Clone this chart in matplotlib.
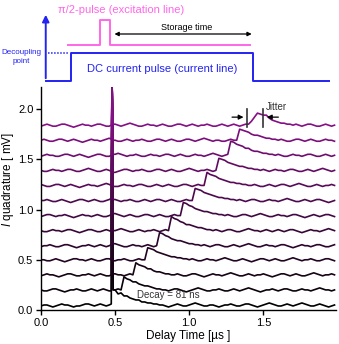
import numpy as np
import matplotlib
matplotlib.use('Agg')
import matplotlib.pyplot as plt

plt.rcParams['font.family'] = ['Liberation Sans', 'DejaVu Sans']
plt.rcParams['mathtext.fontset'] = 'custom'
plt.rcParams['mathtext.it'] = 'Liberation Sans:italic'
plt.rcParams['mathtext.rm'] = 'Liberation Sans'

# sample grid of the traces (us)
t_step = 0.02
n_pts = 100
# baseline of each trace (mV), bottom -> top
baselines = [0.04, 0.19, 0.34, 0.49, 0.63, 0.78, 0.93, 1.08, 1.23, 1.38, 1.53, 1.68, 1.83]
# excitation leak spike (us / mV)
spike_t = [0.474, 0.480, 0.487]
spike_top = 2.21

# trace readings relative to baseline, in 0.01 mV
traces = [
    [0, 1, 1, 0, -1, 0, 1, 2, 1, 1, 0, -1, 0, 0, 1, 2, 2, 1, 0, 1,
     2, 1, 0, 1, 2, 16, 12, 13, 10, 10, 8, 7, 6, 6, 4, 4, 3, 3, 2, 2,
     1, 1, 0, -1, 0, 1, 2, 1, 0, 0, 1, 2, 3, 2, 1, 0, 0, 1, 1, 0,
     -1, 0, 1, 1, 2, 1, 0, 0, 1, 2, 2, 1, 0, -1, 0, 1, 2, 3, 2, 1,
     0, 0, 1, 2, 1, 0, 1, 2, 3, 2, 1, 0, 0, 1, 2, 1, 0, -1, 0, 1],
    [1, 0, 0, 1, 2, 2, 1, 0, -1, 0, 1, 1, 2, 1, 0, 0, 1, 2, 1, 0,
     1, 2, 1, 0, 0, 1, 2, 1, 14, 12, 11, 9, 9, 7, 6, 5, 5, 4, 3, 2,
     2, 1, 1, 0, 1, 2, 2, 1, 0, -1, 0, 1, 2, 3, 2, 1, 0, 0, 1, 1,
     2, 1, 0, 0, 1, 2, 1, 0, 1, 2, 3, 2, 1, 0, -1, 0, 1, 1, 2, 1,
     0, 1, 2, 2, 1, 0, 0, 1, 2, 1, 1, 0, 1, 2, 3, 2, 1, 1, 0, 1],
    [0, 1, 2, 1, 1, 0, -1, 0, 1, 2, 2, 1, 0, 0, 1, 1, 2, 1, 0, 1,
     2, 1, 0, 0, 1, 2, 1, 1, 0, 1, 2, 1, 13, 11, 10, 9, 7, 7, 5, 4,
     4, 3, 2, 2, 1, 1, 2, 1, 0, 0, 1, 2, 2, 1, 0, -1, 0, 1, 2, 1,
     1, 0, 1, 2, 3, 2, 1, 0, 0, 1, 2, 1, 0, 1, 1, 2, 1, 0, -1, 0,
     1, 2, 2, 1, 0, 1, 2, 1, 0, 0, 1, 2, 3, 2, 1, 0, 1, 1, 2, 1],
    [1, 1, 0, 0, 1, 2, 1, 0, -1, 0, 1, 2, 2, 1, 1, 0, 1, 2, 1, 0,
     0, 1, 2, 2, 1, 0, 1, 1, 2, 1, 0, 0, 1, 2, 1, 1, 13, 12, 11, 9,
     8, 7, 6, 5, 4, 4, 3, 3, 2, 2, 1, 2, 1, 0, 0, 1, 2, 1, 1, 0,
     1, 2, 3, 2, 1, 0, 0, 1, 2, 1, 0, -1, 0, 1, 2, 2, 1, 0, 1, 2,
     1, 0, 0, 1, 2, 3, 2, 1, 0, 1, 1, 2, 1, 0, 0, 1, 2, 2, 1, 0],
    [0, 1, 1, 2, 1, 0, 0, 1, 2, 2, 1, 0, -1, 0, 1, 1, 2, 1, 0, 1,
     2, 1, 0, 1, 2, 3, 2, 1, 0, 0, 1, 2, 1, 1, 0, 1, 2, 1, 0, 1,
     14, 13, 11, 10, 8, 7, 6, 6, 5, 4, 3, 3, 2, 2, 1, 2, 1, 0, 1, 2,
     2, 1, 0, 0, 1, 2, 1, 0, 1, 2, 3, 2, 1, 0, 0, 1, 2, 1, 1, 0,
     1, 2, 2, 1, 0, -1, 0, 1, 2, 1, 1, 0, 1, 2, 2, 1, 0, 0, 1, 2],
    [1, 0, 0, 1, 2, 1, 1, 0, 1, 2, 2, 1, 0, -1, 0, 1, 2, 2, 1, 0,
     0, 1, 2, 1, 0, 1, 2, 3, 2, 1, 0, 0, 1, 2, 1, 0, 1, 1, 2, 1,
     0, 1, 2, 1, 15, 13, 12, 10, 9, 7, 7, 6, 5, 4, 4, 3, 2, 2, 1, 2,
     1, 0, 1, 2, 2, 1, 0, 0, 1, 2, 3, 2, 1, 1, 0, 1, 2, 1, 0, 1,
     2, 1, 0, 1, 2, 2, 1, 0, -1, 0, 1, 2, 1, 1, 0, 1, 2, 3, 2, 1],
    [0, 1, 2, 2, 1, 0, 1, 1, 2, 1, 0, -1, 0, 1, 2, 1, 1, 0, 1, 2,
     1, 0, 0, 1, 2, 3, 2, 1, 0, 1, 2, 1, 0, 0, 1, 2, 2, 1, 0, 1,
     2, 1, 0, 0, 1, 2, 1, 1, 14, 13, 11, 10, 8, 7, 6, 5, 5, 4, 3, 3,
     2, 2, 1, 2, 1, 0, 0, 1, 2, 2, 1, 0, 1, 2, 3, 2, 1, 0, 0, 1,
     2, 1, 1, 0, 1, 2, 2, 1, 0, -1, 0, 1, 2, 1, 0, 1, 2, 2, 1, 0],
    [1, 1, 2, 1, 0, 0, 1, 2, 1, 0, -1, 0, 1, 2, 2, 1, 0, 1, 2, 1,
     0, 0, 1, 2, 3, 2, 1, 0, 1, 1, 2, 1, 0, 0, 1, 2, 1, 0, 1, 2,
     2, 1, 0, 1, 2, 1, 0, 0, 1, 2, 1, 1, 13, 12, 11, 9, 8, 7, 6, 5,
     4, 4, 3, 3, 2, 2, 1, 2, 1, 0, 1, 2, 2, 1, 0, 0, 1, 2, 1, 1,
     0, 1, 2, 3, 2, 1, 0, 0, 1, 2, 1, 0, 1, 2, 2, 1, 0, -1, 0, 1],
    [2, 1, 0, 0, 1, 2, 2, 1, 0, 1, 2, 1, 0, -1, 0, 1, 2, 1, 1, 0,
     1, 2, 3, 2, 1, 0, 0, 1, 2, 1, 1, 0, 1, 2, 2, 1, 0, 0, 1, 2,
     1, 0, 1, 2, 1, 0, 0, 1, 2, 2, 1, 0, 1, 2, 1, 1, 14, 12, 11, 10,
     8, 7, 6, 5, 4, 4, 3, 3, 2, 2, 1, 1, 2, 1, 0, 0, 1, 2, 1, 0,
     1, 2, 2, 1, 0, 1, 2, 3, 2, 1, 0, 0, 1, 2, 1, 0, 1, 1, 2, 1],
    [1, 0, 0, 1, 2, 1, 1, 0, 1, 2, 2, 1, 0, 0, 1, 2, 3, 2, 1, 0,
     0, 1, 2, 1, 0, -1, 0, 1, 2, 2, 1, 0, 1, 1, 2, 1, 0, 0, 1, 2,
     2, 1, 0, 1, 2, 1, 0, 0, 1, 2, 3, 2, 1, 0, 1, 1, 2, 1, 0, 1,
     13, 12, 11, 9, 8, 7, 6, 5, 5, 4, 3, 3, 2, 2, 1, 2, 1, 0, 1, 2,
     1, 1, 0, 1, 2, 2, 1, 0, 0, 1, 2, 1, 0, 1, 2, 3, 2, 1, 0, 1],
    [0, 1, 2, 1, 1, 0, 0, 1, 2, 2, 1, 0, 1, 2, 1, 0, -1, 0, 1, 2,
     2, 1, 0, 0, 1, 2, 3, 2, 1, 0, 1, 1, 2, 1, 0, 0, 1, 2, 1, 1,
     0, 1, 2, 2, 1, 0, 1, 2, 1, 0, 0, 1, 2, 1, 1, 0, 1, 2, 3, 2,
     1, 0, 1, 2, 15, 14, 12, 11, 10, 8, 8, 6, 5, 5, 4, 3, 3, 2, 2, 1,
     2, 1, 0, 0, 1, 2, 1, 1, 0, 1, 2, 2, 1, 0, 0, 1, 2, 1, 0, 1],
    [1, 2, 1, 0, 0, 1, 2, 2, 1, 0, 1, 2, 1, 0, -1, 0, 1, 2, 1, 1,
     0, 1, 2, 3, 2, 1, 0, 0, 1, 2, 1, 0, 1, 1, 2, 1, 0, 0, 1, 2,
     2, 1, 0, 1, 2, 1, 0, 0, 1, 2, 2, 1, 0, 1, 2, 3, 2, 1, 0, 1,
     1, 0, 0, 1, 2, 1, 1, 12, 11, 10, 9, 7, 6, 6, 5, 4, 3, 3, 2, 2,
     1, 2, 1, 0, 0, 1, 2, 2, 1, 0, 1, 2, 1, 0, 0, 1, 2, 1, 1, 0],
    [0, 1, 2, 1, 0, 0, 1, 2, 2, 1, 0, -1, 0, 1, 2, 1, 1, 0, 1, 2,
     2, 1, 0, 0, 1, 2, 1, 0, 1, 2, 3, 2, 1, 0, 0, 1, 2, 1, 1, 0,
     1, 2, 1, 0, 0, 1, 2, 2, 1, 0, 1, 2, 1, 0, 1, 1, 2, 1, 0, 0,
     1, 2, 1, 0, 1, 2, 1, 0, 1, 2, 2, 5, 9, 13, 12, 11, 11, 8, 6, 5,
     4, 3, 3, 2, 2, 1, 2, 1, 0, 1, 2, 2, 1, 0, 0, 1, 2, 1, 0, 1],
]
for tr in traces:
    assert len(tr) == n_pts, len(tr)

# schematic (top panel), time in us, levels in arbitrary units
current_t = [0.032, 0.203, 0.203, 1.43, 1.43, 1.94]
current_v = [3, 3, 31, 31, 3, 3]
excite_t = [0.185, 0.40, 0.40, 0.466, 0.466, 1.41]
excite_v = [39, 39, 64, 64, 39, 39]

blue = '#2323F2'
pink = '#FF66E8'

fig = plt.figure(figsize=(3.39, 3.44), dpi=100)
ax = fig.add_axes([41 / 339, 1 - 310 / 344, 295 / 339, 223 / 344])
top = fig.add_axes([41 / 339, 1 - 84 / 344, 295 / 339, 78 / 344])

grid_t = np.arange(n_pts) * t_step
dark = np.array([0.0, 0.0, 0.0])
purple = np.array([0.52, 0.06, 0.52])
n_tr = len(traces)
for i, (b, tr) in enumerate(zip(baselines, traces)):
    v = b + np.array(tr) / 100.0
    k = 24  # sample at the spike
    xs = np.concatenate([grid_t[:k], spike_t, grid_t[k + 1:]])
    ys = np.concatenate([v[:k], [v[k], spike_top, v[k + 1]], v[k + 1:]])
    c = dark + (purple - dark) * i / (n_tr - 1)
    ax.plot(xs, ys, color=c, lw=1.2, zorder=2)

ax.set_xlim(0, 1.99)
ax.set_ylim(0, 2.22)
ax.set_xticks([0, 0.5, 1.0, 1.5])
ax.set_yticks([0, 0.5, 1.0, 1.5, 2.0])
ax.xaxis.set_major_formatter(matplotlib.ticker.FormatStrFormatter('%.1f'))
ax.yaxis.set_major_formatter(matplotlib.ticker.FormatStrFormatter('%.1f'))
ax.tick_params(direction='out', length=3.5, width=1, labelsize=8, pad=2)
for s in ['top', 'right']:
    ax.spines[s].set_visible(False)
for s in ['left', 'bottom']:
    ax.spines[s].set_linewidth(1.0)
ax.set_xlabel('Delay Time [µs ]', fontsize=8.5, labelpad=2)
ax.set_ylabel('$I$ quadrature [ mV]', fontsize=8.5)
ax.yaxis.set_label_coords(-0.085, 0.587)

# jitter marks
ax.plot([1.39, 1.39], [1.82, 2.0], color='#333333', lw=1.2)
ax.plot([1.50, 1.50], [1.82, 2.0], color='#333333', lw=1.2)
ax.annotate('', xy=(1.385, 1.92), xytext=(1.27, 1.92),
            arrowprops=dict(arrowstyle='-|>', color='black', lw=0.9, mutation_scale=7))
ax.annotate('', xy=(1.505, 1.92), xytext=(1.62, 1.92),
            arrowprops=dict(arrowstyle='-|>', color='black', lw=0.9, mutation_scale=7))
ax.text(1.52, 2.02, 'Jitter', fontsize=7, color='#333333', ha='left', va='center')
ax.text(0.86, 0.145, 'Decay = 81 ns', fontsize=7, color='#333333', ha='center', va='center')

# schematic panel
top.set_xlim(0, 1.99)
top.set_ylim(0, 78)
top.axis('off')
top.plot(current_t, current_v, color=blue, lw=1.4, clip_on=False)
top.plot(excite_t, excite_v, color=pink, lw=1.4, clip_on=False)
top.plot([0.05, 0.185], [31, 31], color=blue, lw=1.1, ls=(0, (1, 1)), clip_on=False)
top.annotate('', xy=(0.032, 72), xytext=(0.032, 3),
             arrowprops=dict(arrowstyle='-|>', color=blue, lw=1.4, mutation_scale=10),
             annotation_clip=False)
top.annotate('', xy=(0.477, 50), xytext=(1.44, 50),
             arrowprops=dict(arrowstyle='<|-|>', color='black', lw=0.9, mutation_scale=6))
top.text(0.98, 56, 'Storage time', fontsize=6.5, ha='center', va='center')
top.text(0.54, 74, 'π/2-pulse (excitation line)', fontsize=8, color=pink,
         ha='center', va='center')
top.text(0.82, 15, 'DC current pulse (current line)', fontsize=8, color=blue,
         ha='center', va='center')
top.text(-0.135, 27, 'Decoupling\npoint', fontsize=5.8, color=blue, ha='center',
         va='center', linespacing=1.3, clip_on=False)

fig.savefig('out.png', dpi=100)
